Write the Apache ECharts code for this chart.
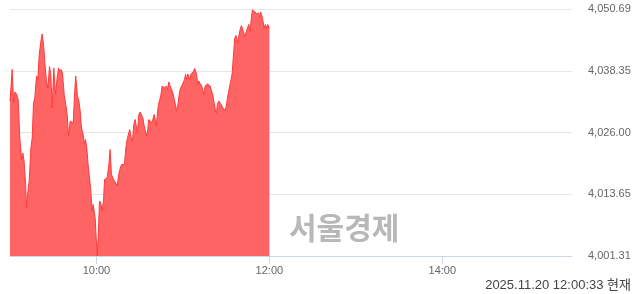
<!DOCTYPE html>
<html><head><meta charset="utf-8">
<script src="https://cdn.jsdelivr.net/npm/echarts@6/dist/echarts.min.js"></script>
<style>html,body{margin:0;padding:0;background:#fff}#c{width:640px;height:294px}</style>
</head><body><div id="c"></div>
<script>
// minutes since 09:00
var minutes = [0,1.5,2.5,3.4,4.5,5.7,6.8,8.0,8.9,9.8,10.8,11.5,12.2,13.3,14.5,15.4,16.3,17.2,18.4,19.3,20.3,21.4,22.3,23.3,24.2,25.3,26.3,27.4,28.3,29.3,30.4,31.6,32.7,33.7,34.6,35.5,36.4,37.6,38.7,39.7,40.6,41.8,42.9,43.9,44.8,45.6,46.8,47.8,48.7,49.6,50.8,51.7,52.4,53.3,54.2,55.2,56.1,57.0,57.7,58.4,59.1,59.8,60.5,61.2,62.1,63.0,63.9,64.9,65.6,66.5,67.4,68.6,69.5,70.4,71.4,72.5,73.4,74.4,75.3,76.2,77.4,78.3,79.4,80.4,81.3,82.4,83.1,84.1,85.0,85.9,86.8,87.5,88.5,89.4,90.3,91.2,92.2,93.1,94.0,94.9,95.6,96.3,97.3,98.2,99.1,100.0,101.0,101.6,102.3,103.0,103.7,104.6,105.6,106.5,107.4,108.3,109.3,110.2,111.1,112.1,113.0,113.9,114.8,115.5,116.4,117.4,118.3,119.2,120.1,121.1,121.8,122.5,123.4,124.1,124.8,125.5,126.4,127.3,128.2,128.9,129.6,130.3,131.0,131.9,132.9,133.8,134.6,135.4,136.1,137.0,137.9,138.9,139.8,140.7,141.6,142.6,143.3,143.9,144.9,145.8,146.7,147.7,148.6,149.5,150.4,151.3,152.3,153.2,154.1,155.1,156.0,156.9,157.8,158.7,159.7,160.6,161.5,162.2,162.9,163.8,164.8,165.7,166.6,167.5,168.2,169.2,170.1,171.0,171.7,172.4,173.1,174.0,174.7,175.4,176.3,177.2,178.2,178.9,180.0];
var values = [4032.3,4038.6,4031.9,4034.1,4033.7,4032.6,4024.9,4020.6,4021.9,4020.3,4015.6,4011.0,4013.6,4016.3,4022.9,4024.9,4031.9,4032.9,4037.3,4036.6,4041.6,4044.2,4045.7,4043.6,4039.9,4036.3,4034.9,4039.2,4037.6,4030.9,4038.9,4033.6,4036.9,4038.9,4038.2,4038.6,4037.9,4033.6,4031.6,4029.6,4025.3,4028.3,4028.6,4027.9,4033.6,4037.3,4033.3,4032.3,4030.3,4026.9,4025.6,4023.6,4024.6,4022.9,4019.6,4016.9,4014.3,4010.3,4011.6,4011.9,4008.9,4005.0,4001.31,4005.0,4012.3,4011.9,4010.3,4012.3,4016.6,4016.3,4016.9,4019.6,4022.6,4017.6,4016.9,4016.3,4015.9,4015.3,4017.3,4018.6,4019.6,4019.9,4019.6,4022.9,4024.6,4025.9,4026.6,4024.9,4024.3,4027.6,4028.6,4028.6,4025.9,4029.6,4030.1,4029.9,4028.9,4027.3,4026.3,4025.3,4026.6,4028.6,4028.3,4027.9,4028.6,4029.6,4028.3,4027.3,4029.9,4031.6,4032.3,4033.3,4035.3,4035.6,4034.9,4035.3,4034.6,4036.1,4035.3,4034.6,4033.9,4033.6,4031.6,4030.4,4031.3,4033.6,4034.9,4035.3,4035.6,4036.6,4037.6,4036.6,4037.7,4037.9,4036.6,4037.6,4037.9,4038.2,4038.8,4038.2,4037.3,4035.6,4036.3,4035.8,4035.4,4035.1,4033.6,4035.3,4035.4,4035.7,4035.9,4035.3,4034.3,4033.6,4033.7,4030.3,4029.9,4031.6,4032.3,4031.9,4031.5,4030.9,4030.6,4030.4,4031.9,4033.6,4033.6,4036.3,4037.6,4041.6,4044.9,4045.4,4043.9,4045.2,4046.6,4047.4,4047.6,4045.9,4045.2,4044.9,4046.9,4047.6,4046.2,4048.9,4050.5,4050.2,4050.1,4049.7,4049.6,4049.9,4049.0,4050.1,4049.9,4048.6,4046.9,4047.6,4046.9,4047.6,4046.8];
var yTicks = [4001.31, 4013.655, 4026.00, 4038.345, 4050.69];
var yTickLabels = ['4,001.31', '4,013.65', '4,026.00', '4,038.35', '4,050.69'];
var xTicks = [60, 180, 300];
var xTickLabels = ['10:00', '12:00', '14:00'];
var watermark = '서울경제';
var stamp = '2025.11.20 12:00:33 현재';

var chart = echarts.init(document.getElementById('c'), null, {renderer: 'canvas'});
var data = minutes.map(function (m, i) { return [m, values[i]]; });
var FONT = '"Liberation Sans", Arial, sans-serif';
chart.setOption({
  animation: false,
  grid: {left: 10, right: 68, top: 9, bottom: 38, containLabel: false},
  xAxis: {
    type: 'value', min: 0, max: 390,
    axisLine: {show: true, lineStyle: {color: '#ccd6eb', width: 1}},
    axisTick: {show: true, length: 8, lineStyle: {color: '#ccd6eb'}, customValues: xTicks},
    axisLabel: {customValues: xTicks, margin: 9, color: '#666666', fontSize: 11, fontFamily: FONT,
      formatter: function (v) { var i = xTicks.indexOf(v); return i >= 0 ? xTickLabels[i] : ''; }},
    splitLine: {show: false}
  },
  yAxis: {
    type: 'value', position: 'right', min: yTicks[0], max: yTicks[yTicks.length - 1],
    axisLine: {show: false},
    axisTick: {show: false, customValues: yTicks},
    axisLabel: {customValues: yTicks, margin: 16, color: '#666666', fontSize: 11, fontFamily: FONT, align: 'left',
      formatter: function (v) {
        var best = 0, d = Infinity;
        yTicks.forEach(function (t, i) { if (Math.abs(t - v) < d) { d = Math.abs(t - v); best = i; } });
        return yTickLabels[best];
      }},
    splitLine: {show: true, lineStyle: {color: '#e6e6e6', width: 1}}
  },
  series: [{
    type: 'line', data: data, showSymbol: false, symbol: 'none',
    lineStyle: {color: '#ff3b3b', width: 1},
    areaStyle: {color: '#ff6464', opacity: 1},
    z: 3
  }],
  graphic: [
    {type: 'text', left: 289, top: 213, z: 1,
      style: {text: watermark, font: 'bold 30px "Noto Sans CJK KR", sans-serif', fill: '#b8b8b8'}},
    {type: 'text', right: 9, top: 279, z: 10,
      style: {text: stamp, font: '13px ' + FONT + ', "Noto Sans CJK KR"', fill: '#444444'}}
  ]
});
</script>
</body></html>
